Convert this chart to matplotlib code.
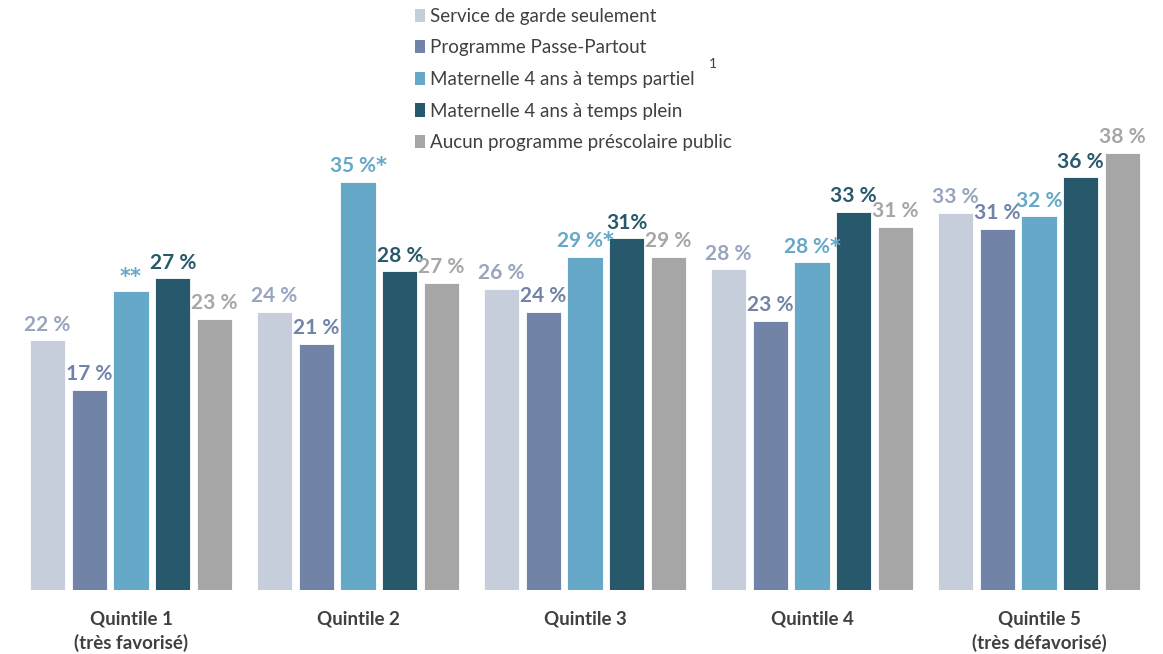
import numpy as np
import matplotlib
matplotlib.use('Agg')
import matplotlib.pyplot as plt
from matplotlib.patches import Patch

plt.rcParams['font.family'] = ['Lato', 'DejaVu Sans']

quintiles = ['Quintile 1\n(très favorisé)', 'Quintile 2', 'Quintile 3', 'Quintile 4',
             'Quintile 5\n(très défavorisé)']
series = ['Service de garde seulement', 'Programme Passe-Partout',
          'Maternelle 4 ans à temps partiel', 'Maternelle 4 ans à temps plein',
          'Aucun programme préscolaire public']

# values per series, one per quintile
garde = [21.7, 24.2, 26.2, 27.9, 32.8]
passe_partout = [17.4, 21.4, 24.2, 23.4, 31.4]
partiel = [26.0, 35.5, 29.0, 28.5, 32.5]
plein = [27.1, 27.7, 30.6, 32.9, 35.9]
aucun = [23.6, 26.7, 29.0, 31.6, 38.0]

labels_garde = ['22 %', '24 %', '26 %', '28 %', '33 %']
labels_passe = ['17 %', '21 %', '24 %', '23 %', '31 %']
labels_partiel = ['**', '35 %*', '29 %*', '28 %*', '32 %']
labels_plein = ['27 %', '28 %', '31%', '33 %', '36 %']
labels_aucun = ['23 %', '27 %', '29 %', '31 %', '38 %']

bar_colors = ['#C7CEDB', '#7183A7', '#66A8C7', '#28586B', '#A6A6A6']
text_colors = ['#98A5BD', '#7183A7', '#66A8C7', '#28586B', '#A6A6A6']

all_vals = [garde, passe_partout, partiel, plein, aucun]
all_labels = [labels_garde, labels_passe, labels_partiel, labels_plein, labels_aucun]

fig = plt.figure(figsize=(11.63, 6.54), dpi=100)
ax = fig.add_axes([0, 64 / 654, 1, 590 / 654])

x = np.arange(len(quintiles))
step = 0.184
width = 0.156
for i, (vals, labs) in enumerate(zip(all_vals, all_labels)):
    pos = x + (i - 2) * step
    ax.bar(pos, vals, width=width, color=bar_colors[i], edgecolor='white', linewidth=0.6)
    for px, v, lab in zip(pos, vals, labs):
        # bigger asterisks, like in the original
        lab = lab.replace('*', r'$\bf{*}$')
        ax.annotate(lab, (px, v), xytext=(0, 4), textcoords='offset points',
                    ha='center', va='bottom', fontsize=15, fontweight='bold',
                    color=text_colors[i])

ax.set_xlim(-131 / 227, (1163 - 131) / 227)
ax.set_ylim(0, 590 / 11.5)
ax.set_xticks(x)
ax.set_xticklabels(quintiles, fontsize=13.5, fontweight='bold', color='#404040',
                   linespacing=1.4)
ax.tick_params(axis='x', length=0, pad=15)
ax.set_yticks([])
for s in ax.spines.values():
    s.set_visible(False)

handles = [Patch(facecolor=c, edgecolor='none') for c in bar_colors]
fig.legend(handles, series, loc='upper left', bbox_to_anchor=(398 / 1163, 1.014),
           frameon=False, fontsize=13.5, labelcolor='#404040',
           handlelength=0.55, handleheight=0.7, handletextpad=0.25, labelspacing=0.78)
fig.text(709 / 1163, 1 - 64 / 654, '1', fontsize=10, color='#404040', ha='left', va='center')

fig.savefig('out.png', dpi=100)
